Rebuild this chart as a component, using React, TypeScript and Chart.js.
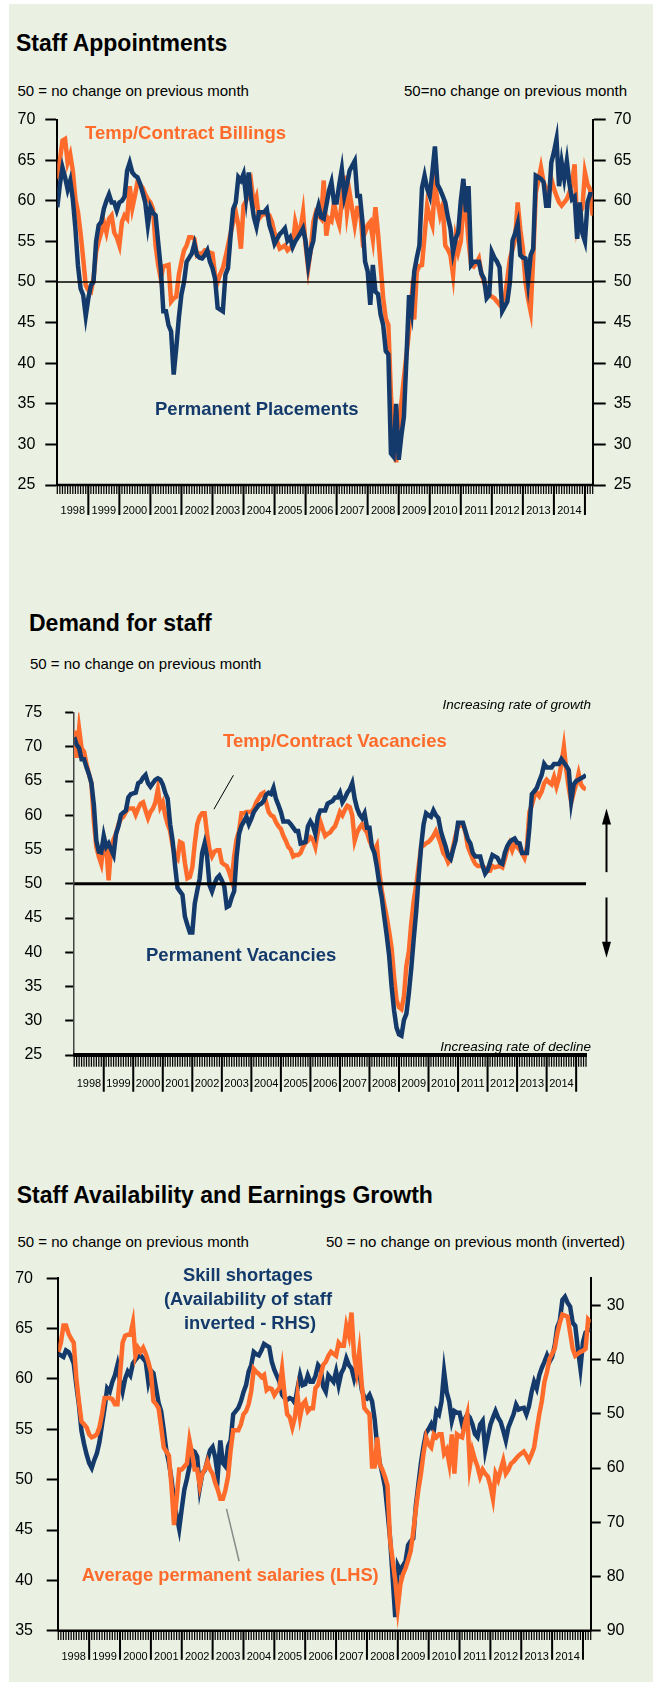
import React, { useEffect, useRef } from 'react';
import { Chart, registerables } from 'chart.js';

Chart.register(...registerables);

const W = 653;
const FONT = '"Liberation Sans", Arial, Helvetica, sans-serif';
const ORANGE = '#FF6B2B';
const BLUE = '#143A6C';
const BG = '#EAF0E2';

const YEARS = ['1998', '1999', '2000', '2001', '2002', '2003', '2004', '2005', '2006', '2007', '2008', '2009', '2010', '2011', '2012', '2013', '2014'];

// ---------- Staff Appointments (monthly, Jan 1998 onwards) ----------
const permPlacements = [
  59.2, 62, 64.1, 62.9, 61.4, 62.5, 60.2, 56.6, 52, 49.2, 48.4, 45.8,
  48, 49.6, 50, 55, 57, 57.4, 59, 60, 60.8, 59.8, 59.8, 58.8,
  59.8, 60, 60.5, 63.7, 64.7, 63.5, 63.1, 62.9, 62.1, 61, 59.8, 57,
  59.2, 58.5, 58.2, 54.9, 51.7, 46.4, 46.4, 44.7, 43.9, 38.6, 41.9, 45.6,
  48.5, 50, 52.5, 53, 53.5, 54.7, 53.3, 53, 52.9, 53.3, 53.9, 52.5,
  51.7, 50.4, 46.8, 46.6, 46.4, 50.9, 51.7, 55.7, 59, 59.8, 62.9, 62.5,
  63.3, 60.4, 63.5, 60.2, 58, 56.8, 58.6, 58.6, 58.6, 59, 57, 56,
  54.7, 55.3, 55.9, 56.2, 56.6, 55.1, 55.5, 54.3, 55, 55.5, 56, 56.6,
  55, 52.1, 54, 55.1, 58.2, 59.4, 58, 57.8, 59.4, 61.2, 62.3, 59.8,
  59.8, 62, 63.9, 60.6, 62, 63.7, 64.3, 64.9, 60.6, 60.6, 57.4, 52.5,
  51.3, 47.2, 52.1, 48.8, 48.5, 46, 44.7, 41.5, 41.1, 28.9, 28.5, 35,
  28.1, 31, 33.4, 40.7, 48.4, 46.4, 51.3, 53, 54.5, 61.6, 63.1, 61.5,
  60.6, 63.5, 66.7, 62, 61.4, 60.6, 59.8, 58, 56.6, 53.7, 55.3, 56.1,
  60, 62.7, 58.6, 61.8, 52.1, 52.5, 52.5, 52.5, 51, 50.4, 48, 48.4,
  53.7, 53, 52.5, 51.8, 46.4, 47, 47.6, 50, 55.1, 56, 57.2, 53.3,
  53, 52.9, 50, 53.3, 54.1, 63.1, 62.9, 62.7, 62.3, 59.4, 59.4, 64.7,
  66, 67.6, 61.8, 64.7, 62.7, 64.9, 62.1, 60.2, 60.5, 55.3, 59.8, 56,
  55, 59.8, 60.8, 60.8,
];
const tempBillings = [
  62.7, 65, 67.4, 67.6, 64.7, 65.7, 63.7, 60.2, 58.6, 56, 52.9, 49.6,
  49, 48.8, 50.4, 53.7, 55, 56.1, 57.4, 56.1, 57.8, 58.2, 56.1, 55.5,
  54.5, 57.4, 58.2, 57.8, 61.8, 59.1, 60.6, 62.3, 62, 61.6, 60.8, 60.2,
  59.8, 59, 54.5, 52.1, 50.4, 51.9, 52, 52.1, 47.6, 48, 48.2, 50.9,
  52.5, 53.9, 54.5, 55.5, 55.5, 55.3, 53.3, 53.5, 53.5, 53.9, 53.8, 53.6,
  53.5, 50.9, 50, 51, 51.7, 53, 54.5, 56, 57.4, 58.6, 57, 54.1,
  59.4, 60, 60.8, 62.1, 59.4, 60.4, 57.8, 58.2, 58.4, 58.3, 58.2, 57.4,
  56, 55, 54.1, 54.3, 54.5, 53.9, 54.2, 54.5, 57.4, 56.1, 56.5, 58.6,
  54.5, 51.7, 54, 57.4, 58.6, 58.2, 57.8, 62.5, 55.7, 57.8, 57.5, 59.8,
  58, 57, 60, 63.1, 58.6, 61, 59, 57, 59.1, 59.1, 55.3, 56.1,
  57, 57.4, 55.3, 59.2, 56, 52, 48, 45.5, 44.7, 36, 31, 27.8,
  32.1, 35, 38.2, 41, 44, 48, 45.4, 51.3, 52, 52.1, 55.7, 59.4,
  58, 57, 62.1, 60, 58.2, 59.4, 54.5, 54, 53.3, 50.9, 55.3, 53.7,
  55, 59.4, 59, 55, 52.1, 51.9, 52.3, 52.9, 51, 50, 48.8, 48.4,
  48.2, 48, 47.6, 47.2, 47.6, 48, 50.4, 52.9, 54, 55.3, 59.8, 56.5,
  54.1, 50, 48, 46.4, 52.9, 61, 62.5, 64.1, 62.3, 61.5, 61, 62.7,
  61.5, 60.6, 59.8, 59.4, 59.8, 60.2, 61, 62.3, 64.5, 57, 58.5, 59.1,
  63.5, 62, 61.4, 58.2,
];
const apptTicks = [25, 30, 35, 40, 45, 50, 55, 60, 65, 70];

// ---------- Demand for staff ----------
const permVacancies = [
  71.4, 70.3, 69.8, 68.2, 68.2, 67, 66, 64.7, 61.5, 56.3, 54.7, 54.6,
  57, 55.4, 55.9, 55, 54.2, 57.3, 58.4, 60.1, 60.4, 60.7, 62.6, 63.1,
  63.2, 63.3, 64.7, 64.9, 65.5, 65.9, 64.7, 64.2, 64.7, 65.2, 65.4, 65.2,
  64.5, 63.3, 62.4, 58.7, 56.3, 52.6, 49.4, 48.9, 48.4, 45.2, 44, 42.9,
  42.9, 47.1, 49, 50.8, 54.5, 55.9, 54, 49.8, 48.9, 50, 50.8, 51.2,
  50.5, 49.6, 46.6, 46.8, 48, 48.9, 54, 57.3, 58.5, 59.1, 59.8, 58.7,
  59.5, 60.5, 61, 61.5, 61.7, 62.1, 63, 63.3, 63.1, 64, 62.4, 61.5,
  60.5, 59.1, 59.1, 59.1, 58.7, 58.2, 57.7, 57.7, 55.9, 56, 56.1, 58.4,
  59.1, 58.5, 57.3, 59.8, 60.7, 60.7, 60.7, 61.7, 61.9, 62.1, 62.6, 62.6,
  63.3, 61.9, 62.5, 63.3, 63.8, 64.7, 62.4, 61, 60.1, 59.6, 60.3, 58.2,
  58.2, 55.4, 54.5, 52.5, 50, 48, 45.2, 42.5, 39.5, 35, 31.5, 29,
  28, 27.8, 30.1, 31, 34, 37.7, 42, 46, 51, 55.5, 58.7, 60.3,
  60, 59.8, 60.7, 60, 59.6, 57.7, 56.5, 55.4, 54, 53.6, 55, 56.3,
  58.9, 58.9, 58.9, 57.7, 56.5, 55.9, 54.5, 54, 54, 54, 52.6, 51.5,
  52, 53.1, 54.2, 54, 53.8, 53.1, 52.9, 54.5, 55.5, 56.1, 56.4, 56.6,
  56, 55.9, 54.5, 54.5, 54.5, 58.2, 63.1, 63.5, 64, 65, 65.9, 67.5,
  67, 67, 67, 67.5, 67.5, 67.5, 68.2, 67.7, 67.2, 66.6, 62.1, 64.5,
  65, 65.2, 65.4, 65.6, 65.9,
];
const tempVacancies = [
  72.4, 68.4, 72.6, 69.8, 69.3, 67.5, 66, 64.7, 59.1, 55.4, 54, 52.9,
  55.9, 55.4, 50.5, 55.4, 56.5, 57.3, 58.7, 59.5, 59.8, 60.5, 61, 61,
  61, 60.1, 61, 61.7, 61.9, 60.7, 59.6, 60.5, 61, 61.9, 63.8, 61.2,
  61.9, 60, 58.7, 57.7, 55.5, 54, 53.6, 56.1, 55.9, 53, 50.8, 51,
  52.4, 55.9, 58.7, 59.8, 60.3, 60.3, 57.3, 55, 54, 54.7, 54.9, 54.9,
  53.1, 52.8, 52.6, 51.7, 50.5, 54, 56.5, 57.7, 60.3, 60.3, 60.5, 60.5,
  60.5, 61, 61.9, 62.5, 63.1, 63.3, 61.9, 60.5, 60, 59.8, 59, 58.4,
  58, 57, 56.3, 55.4, 55, 54, 54.2, 54.2, 54.5, 55.4, 56, 56.3,
  56.8, 56.5, 55.4, 57.5, 59.1, 58, 57, 57.3, 57.5, 58, 58.4, 59.4,
  60.5, 60, 60.8, 61.4, 61.2, 60, 56.3, 57.5, 58.2, 58.7, 58, 57.5,
  56.3, 55.5, 54.9, 55.6, 51.7, 49, 47, 45.2, 43, 40.6, 36.4, 33,
  32, 31.7, 33.5, 38, 40.1, 44.3, 47.5, 49.8, 52.6, 55.4, 55.6, 55.9,
  56.1, 56.5, 57, 57.7, 56.8, 55.8, 54.5, 54, 53.1, 53.6, 55.4, 57,
  58.4, 58.5, 58.7, 57.5, 55.4, 54.5, 53.6, 52.9, 52.6, 52.6, 52.6, 52.2,
  51.9, 51.9, 52.6, 52.4, 52.5, 52.6, 52.4, 53.6, 55, 55.9, 54.9, 55.9,
  55.4, 55, 54.5, 53.8, 55.4, 60.5, 61.5, 62.8, 63.3, 62.8, 63.5, 64.7,
  65.2, 64.8, 64.5, 65.6, 64.2, 65.5, 67.5, 70, 66.6, 64, 61.9, 63.3,
  64.5, 66.1, 64.5, 64, 63.8,
];
const demandTicks = [25, 30, 35, 40, 45, 50, 55, 60, 65, 70, 75];

// ---------- Staff Availability and Earnings Growth ----------
const skillShortagesInverted = [
  38.9, 39.2, 39.5, 38.3, 38.6, 39.5, 40.7, 44.7, 48.3, 53.1, 55.5, 57.5,
  59.1, 60, 58.5, 57.3, 55.2, 52, 48.9, 45.3, 45.9, 44.1, 42.9, 41,
  44, 45.9, 43.5, 42.2, 42.9, 40.7, 40, 39.5, 39.2, 39.8, 40.4, 44.1,
  42, 42.5, 45.3, 48, 49.5, 53, 56.7, 59, 62, 66, 68.8, 71.2,
  67.5, 64, 62, 59.7, 56.7, 57, 57.9, 63.7, 61, 60.4, 58.5, 56.7,
  56.1, 58, 61.5, 54.9, 59.1, 59.7, 56, 54.9, 50.1, 49.5, 48.9, 47.7,
  46, 44.7, 42.2, 41, 38.6, 39, 39.2, 38.3, 37.1, 37.4, 37.7, 40.4,
  41.9, 43, 44.1, 46.5, 47.1, 47.4, 47.1, 47.3, 48, 45.3, 42.9, 44.7,
  44.5, 42.9, 44.1, 44.1, 43, 41, 41.6, 45, 45.9, 42.9, 43.5, 44.1,
  42.2, 44.7, 42.5, 41.6, 39.8, 41, 41.6, 43.5, 41.6, 42.2, 45.6, 47,
  47.2, 46.5, 47.7, 51, 56, 59.1, 61, 63.4, 68, 73, 80.2, 87.5,
  78, 79, 78, 77.2, 74.2, 73.5, 73, 67, 63, 59.1, 56, 53.5,
  52.8, 51.9, 53.1, 49.5, 50.1, 47.7, 42.2, 46, 47.7, 51.3, 49.5, 49.8,
  49.8, 51.9, 51, 50.1, 50.7, 51.9, 53.7, 54.3, 52, 51.3, 56.7, 54.3,
  52, 50.7, 49.5, 50.7, 51.5, 53.1, 54.9, 52.5, 51.3, 50.1, 48.3, 49.2,
  49, 48.9, 50.1, 48.6, 46, 44.1, 45.3, 42.9, 41.5, 40.4, 39.2, 40.4,
  39.5, 37.4, 34, 32.8, 29, 28.4, 29.5, 30.2, 33.2, 33.8, 38, 41.6,
  36.8, 35, 34.6, 34.4,
];
const avgPermSalaries = [
  62.7, 63.6, 65.3, 65.3, 64.5, 64, 63.6, 60.1, 57.8, 55.8, 55.5, 55.2,
  54.5, 54.2, 54.3, 54.5, 55.2, 56.5, 58.1, 58.1, 58.1, 58, 57.5, 57.5,
  60.4, 63.6, 64.3, 64.4, 64.4, 65.6, 62.3, 63.1, 62.7, 63.1, 62.5, 61.7,
  60.7, 57.8, 57.5, 57.1, 55.2, 53.2, 52.8, 52.4, 49.4, 45.5, 48.1, 51,
  51, 51.3, 51.6, 53.9, 52.6, 51, 51, 49.4, 50.6, 51, 51.8, 51,
  50.6, 49.7, 49, 48.1, 48.1, 49, 50.3, 52.9, 54.9, 54.9, 54.9, 55.5,
  56.5, 56.8, 57.5, 58.8, 61, 60.7, 60.5, 60.2, 60.4, 58.9, 59.1, 59,
  58.4, 58.8, 59.1, 61, 58.4, 56.5, 56.2, 55.2, 56.2, 58.4, 56.2, 57.5,
  57.8, 56.8, 57.1, 57.1, 59.1, 59.4, 60.4, 61.4, 61.7, 62.3, 62.7, 62.5,
  62.3, 63.6, 63.3, 63.3, 65.3, 64.3, 66.6, 62.3, 60.7, 62.7, 59.4, 57.1,
  56.8, 56.5, 51.3, 51.3, 54.2, 51.5, 51, 50.3, 49.4, 44, 42, 40,
  37.3, 39.6, 40.6, 41.2, 42, 42.9, 44.8, 47, 49, 50.6, 52.6, 54.2,
  53.5, 53.2, 54.5, 54.2, 54.5, 54.5, 52.6, 53, 51.6, 54.5, 50.6, 54.5,
  54.3, 54.2, 55.5, 56.5, 51.3, 52.9, 52, 51.3, 50.3, 51, 50.6, 50.3,
  49.4, 48.1, 50.6, 50, 51, 51.9, 50.6, 51, 51.6, 51.8, 52.1, 52.4,
  52.6, 52.8, 52.4, 51.9, 52.5, 53.2, 54.9, 56.5, 57.8, 59.7, 60.7, 62,
  62.5, 63, 64.5, 65.6, 66.4, 66.3, 66.2, 64.6, 63, 62.3, 62.5, 62.7,
  62.8, 63, 65.9, 65.6,
];
const salaryTicks = [35, 40, 45, 50, 55, 60, 65, 70];
const availabilityTicks = [30, 40, 50, 60, 70, 80, 90];

// ---------- helpers ----------
function series(values: number[], color: string, width: number, yAxisID = 'y') {
  return {
    data: values.map((v, i) => ({ x: i, y: v })),
    borderColor: color,
    backgroundColor: color,
    borderWidth: width,
    pointRadius: 0,
    pointHoverRadius: 0,
    tension: 0,
    fill: false,
    borderJoinStyle: 'miter',
    yAxisID,
  };
}

function yAxis(o: any) {
  return {
    type: 'linear',
    position: o.position,
    min: o.min,
    max: o.max,
    reverse: !!o.reverse,
    afterFit: (s: any) => { s.width = o.width; },
    afterBuildTicks: (s: any) => { s.ticks = o.ticks.map((v: number) => ({ value: v })); },
    border: { display: true, color: o.borderColor || '#000', width: o.borderWidth || 2 },
    grid: { drawOnChartArea: false, drawTicks: true, tickLength: o.tickLength, tickWidth: 2, tickColor: '#000' },
    ticks: { color: '#000', font: { family: FONT, size: o.fontSize }, padding: o.padding, autoSkip: false },
  };
}

function monthAxisPlugin(p: { count: number; minor: number; major: number; labelDy: number; axisWidth: number }) {
  return {
    id: 'monthAxis',
    afterDraw(chart: any) {
      const { ctx, chartArea: ca } = chart;
      const xs = chart.scales.x;
      ctx.save();
      ctx.strokeStyle = '#000';
      ctx.lineWidth = 1.25;
      ctx.beginPath();
      for (let i = 0; i < p.count; i++) {
        const px = xs.getPixelForValue(i);
        ctx.moveTo(px, ca.bottom);
        ctx.lineTo(px, ca.bottom + p.minor);
      }
      ctx.stroke();
      ctx.lineWidth = 2;
      ctx.beginPath();
      for (let k = 1; k <= YEARS.length; k++) {
        const px = xs.getPixelForValue(12 * k);
        ctx.moveTo(px, ca.bottom);
        ctx.lineTo(px, ca.bottom + p.major);
      }
      ctx.stroke();
      ctx.fillStyle = '#000';
      ctx.font = `11px ${FONT}`;
      ctx.textAlign = 'center';
      ctx.textBaseline = 'middle';
      YEARS.forEach((yr, k) => ctx.fillText(yr, xs.getPixelForValue(12 * k + 6), ca.bottom + p.labelDy));
      ctx.lineWidth = p.axisWidth;
      ctx.beginPath();
      ctx.moveTo(ca.left - 1, ca.bottom);
      ctx.lineTo(ca.right + 1, ca.bottom);
      ctx.stroke();
      ctx.restore();
    },
  };
}

function refLinePlugin(value: number, width: number) {
  return {
    id: 'refLine',
    afterDatasetsDraw(chart: any) {
      const { ctx, chartArea: ca } = chart;
      const y = chart.scales.y.getPixelForValue(value);
      ctx.save();
      ctx.strokeStyle = '#000';
      ctx.lineWidth = width;
      ctx.beginPath();
      ctx.moveTo(ca.left, y);
      ctx.lineTo(ca.right, y);
      ctx.stroke();
      ctx.restore();
    },
  };
}

function calloutPlugin(a: { x1: number; y1: number; x2: number; y2: number; color: string; width: number; axis: string }) {
  return {
    id: 'callout',
    afterDatasetsDraw(chart: any) {
      const { ctx } = chart;
      const xs = chart.scales.x;
      const ys = chart.scales[a.axis];
      ctx.save();
      ctx.strokeStyle = a.color;
      ctx.lineWidth = a.width;
      ctx.beginPath();
      ctx.moveTo(xs.getPixelForValue(a.x1), ys.getPixelForValue(a.y1));
      ctx.lineTo(xs.getPixelForValue(a.x2), ys.getPixelForValue(a.y2));
      ctx.stroke();
      ctx.restore();
    },
  };
}

const arrowPlugin = {
  id: 'arrows',
  afterDraw(chart: any) {
    const { ctx, chartArea: ca } = chart;
    const ys = chart.scales.y;
    const x = ca.right + 20.5;
    const draw = (fromV: number, toV: number) => {
      const y0 = ys.getPixelForValue(fromV);
      const y1 = ys.getPixelForValue(toV);
      const dir = y1 < y0 ? -1 : 1;
      ctx.beginPath();
      ctx.moveTo(x, y0);
      ctx.lineTo(x, y1 - dir * 14);
      ctx.stroke();
      ctx.beginPath();
      ctx.moveTo(x, y1);
      ctx.lineTo(x - 4.5, y1 - dir * 16);
      ctx.lineTo(x + 4.5, y1 - dir * 16);
      ctx.closePath();
      ctx.fill();
    };
    ctx.save();
    ctx.strokeStyle = '#000';
    ctx.fillStyle = '#000';
    ctx.lineWidth = 2;
    draw(51.7, 61);
    draw(48, 39.2);
    ctx.restore();
  },
};

function ChartCanvas({ top, height, make }: { top: number; height: number; make: () => any }) {
  const ref = useRef<HTMLCanvasElement>(null);
  useEffect(() => {
    const chart = new Chart(ref.current as HTMLCanvasElement, make());
    return () => chart.destroy();
  }, []);
  return (
    <canvas
      ref={ref}
      width={W}
      height={height}
      style={{ position: 'absolute', left: 0, top, width: W, height, display: 'block' }}
    />
  );
}

const baseOptions = (padding: any) => ({
  responsive: false,
  animation: false,
  devicePixelRatio: 1,
  events: [],
  layout: { padding, autoPadding: false },
  plugins: { legend: { display: false }, tooltip: { enabled: false } },
});

function makeAppointments() {
  return {
    type: 'line',
    data: {
      datasets: [series(permPlacements, BLUE, 4.5), series(tempBillings, ORANGE, 4.5)],
    },
    options: {
      ...baseOptions({ top: 16.7, bottom: 45, left: 0, right: 0 }),
      scales: {
        x: { type: 'linear', min: 0, max: permPlacements.length - 1, display: false },
        y: yAxis({ position: 'left', min: 25, max: 70, ticks: apptTicks, width: 57.3, tickLength: 12, padding: 10, fontSize: 16 }),
        y2: yAxis({ position: 'right', min: 25, max: 70, ticks: apptTicks, width: 60.3, tickLength: 13, padding: 8, fontSize: 16 }),
      },
    },
    plugins: [
      refLinePlugin(50, 1.5),
      monthAxisPlugin({ count: permPlacements.length, minor: 9, major: 30, labelDy: 25.7, axisWidth: 2.5 }),
    ],
  };
}

function makeDemand() {
  return {
    type: 'line',
    data: {
      datasets: [series(permVacancies, BLUE, 4.5), series(tempVacancies, ORANGE, 4.5)],
    },
    options: {
      ...baseOptions({ top: 16, bottom: 45, left: 0, right: 67 }),
      scales: {
        x: { type: 'linear', min: 0, max: permVacancies.length - 1, display: false },
        y: yAxis({ position: 'left', min: 25, max: 75, ticks: demandTicks, width: 74.2, tickLength: 9, padding: 23, fontSize: 16, borderColor: '#444', borderWidth: 1.5 }),
      },
    },
    plugins: [
      refLinePlugin(50, 3),
      calloutPlugin({ x1: 64.7, y1: 65.85, x2: 56.8, y2: 60.9, color: '#000', width: 1, axis: 'y' }),
      arrowPlugin,
      monthAxisPlugin({ count: permVacancies.length, minor: 11.7, major: 36.7, labelDy: 28.5, axisWidth: 4 }),
    ],
  };
}

function makeAvailability() {
  return {
    type: 'line',
    data: {
      datasets: [series(avgPermSalaries, ORANGE, 4.5, 'y'), series(skillShortagesInverted, BLUE, 4.5, 'y2')],
    },
    options: {
      ...baseOptions({ top: 16.3, bottom: 52.3, left: 0, right: 0 }),
      scales: {
        x: { type: 'linear', min: 0, max: avgPermSalaries.length - 1, display: false },
        y: yAxis({ position: 'left', min: 35, max: 70, ticks: salaryTicks, width: 58.3, tickLength: 11.6, padding: 13.7, fontSize: 16 }),
        y2: yAxis({ position: 'right', min: 25, max: 90, reverse: true, ticks: availabilityTicks, width: 62.3, tickLength: 10, padding: 6, fontSize: 16 }),
      },
    },
    plugins: [
      calloutPlugin({ x1: 65.4, y1: 47.1, x2: 70.3, y2: 41.9, color: '#8a8a8a', width: 1.5, axis: 'y' }),
      monthAxisPlugin({ count: avgPermSalaries.length, minor: 9.3, major: 29, labelDy: 26.6, axisWidth: 2.5 }),
    ],
  };
}

function Txt(props: { x: number; y: number; size: number; bold?: boolean; italic?: boolean; color?: string; align?: 'left' | 'right' | 'center'; children: React.ReactNode }) {
  const { x, y, size, bold, italic, color = '#000', align = 'left', children } = props;
  const style: React.CSSProperties = {
    position: 'absolute',
    top: y - 0.49 * size,
    fontSize: size,
    lineHeight: `${size}px`,
    fontFamily: FONT,
    fontWeight: bold ? 700 : 400,
    fontStyle: italic ? 'italic' : 'normal',
    color,
    whiteSpace: 'nowrap',
  };
  if (align === 'left') style.left = x;
  else if (align === 'right') style.right = W - x;
  else {
    style.left = x;
    style.transform = 'translateX(-50%)';
  }
  return <div style={style}>{children}</div>;
}

export default function App() {
  return (
    <div style={{ position: 'absolute', left: 0, top: 0, width: W, height: 1683, background: '#fff', overflow: 'hidden' }}>
      <div style={{ position: 'absolute', left: 9, top: 4, width: W - 9, height: 1678, background: BG }} />

      <ChartCanvas top={100} height={430} make={makeAppointments} />
      <ChartCanvas top={680} height={420} make={makeDemand} />
      <ChartCanvas top={1255} height={428} make={makeAvailability} />

      <Txt x={16} y={43.5} size={23} bold>Staff Appointments</Txt>
      <Txt x={17.5} y={90} size={15}>50 = no change on previous month</Txt>
      <Txt x={404} y={90} size={15}>50=no change on previous month</Txt>
      <Txt x={85} y={133} size={18.5} bold color={ORANGE}>Temp/Contract Billings</Txt>
      <Txt x={155} y={409} size={18.5} bold color={BLUE}>Permanent Placements</Txt>

      <Txt x={29} y={623} size={23} bold>Demand for staff</Txt>
      <Txt x={30} y={663} size={15}>50 = no change on previous month</Txt>
      <Txt x={591} y={705} size={13.5} italic align="right">Increasing rate of growth</Txt>
      <Txt x={591} y={1046.5} size={13.5} italic align="right">Increasing rate of decline</Txt>
      <Txt x={223} y={741} size={18.5} bold color={ORANGE}>Temp/Contract Vacancies</Txt>
      <Txt x={146} y={955} size={18.5} bold color={BLUE}>Permanent Vacancies</Txt>

      <Txt x={16.7} y={1195} size={23} bold>Staff Availability and Earnings Growth</Txt>
      <Txt x={17.5} y={1241.7} size={15}>50 = no change on previous month</Txt>
      <Txt x={326} y={1241.7} size={15}>50 = no change on previous month (inverted)</Txt>
      <Txt x={248} y={1275} size={18.3} bold color={BLUE} align="center">Skill shortages</Txt>
      <Txt x={248} y={1299} size={18.3} bold color={BLUE} align="center">(Availability of staff</Txt>
      <Txt x={250} y={1323} size={18.3} bold color={BLUE} align="center">inverted - RHS)</Txt>
      <Txt x={81.7} y={1575} size={18.3} bold color={ORANGE}>Average permanent salaries (LHS)</Txt>
    </div>
  );
}
